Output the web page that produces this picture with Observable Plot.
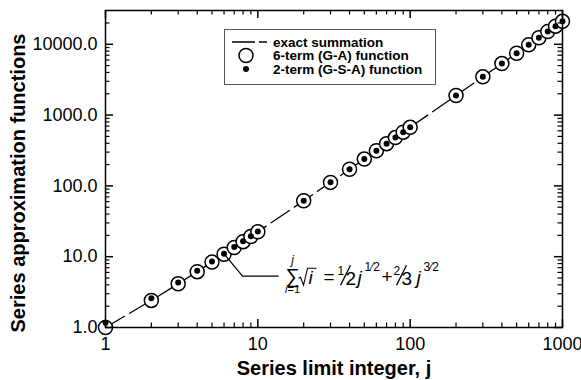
<!DOCTYPE html>
<html><head><meta charset="utf-8">
<script src="https://cdn.jsdelivr.net/npm/d3@7"></script>
<script src="https://cdn.jsdelivr.net/npm/@observablehq/plot@0.6"></script>
<style>body{margin:0;background:#fff} #chart{width:581px;height:380px}</style>
</head><body><div id="chart"></div>
<script>
// Series limit integer j
const jValues = [1,2,3,4,5,6,7,8,9,10,20,30,40,50,60,70,80,90,100,200,300,400,500,600,700,800,900,1000];
// exact summation of sqrt(i), i=1..j
const exactSum = [1, 2.414, 4.146, 6.146, 8.382, 10.832, 13.478, 16.306, 19.306, 22.468, 61.67, 112.08, 171.61, 239.04, 313.51, 394.42, 481.29, 573.74, 671.46, 1892.5, 3472.6, 5343.1, 7464.5, 9810.0, 12359.9, 15098.9, 18014.8, 21097.5];
// 6-term (G-A) function
const gaSixTerm = [1, 2.414, 4.146, 6.146, 8.382, 10.832, 13.478, 16.306, 19.306, 22.468, 61.67, 112.08, 171.61, 239.04, 313.51, 394.42, 481.29, 573.74, 671.46, 1892.5, 3472.6, 5343.1, 7464.5, 9810.0, 12359.9, 15098.9, 18014.8, 21097.5];
// 2-term (G-S-A) function
const gsaTwoTerm = [1.167, 2.593, 4.330, 6.333, 8.572, 11.02, 13.67, 16.50, 19.50, 22.66, 61.87, 112.29, 171.82, 239.24, 313.71, 394.62, 481.50, 573.95, 671.67, 1892.7, 3472.8, 5343.3, 7464.7, 9810.2, 12360.1, 15099.1, 18015.0, 21097.7];

const xTickValues = [1, 10, 100, 1000];
const xTickLabels = ["1", "10", "100", "1000"];
const xMinorTicks = [2,3,4,5,6,7,8,9,20,30,40,50,60,70,80,90,200,300,400,500,600,700,800,900];
const yTickValues = [1, 10, 100, 1000, 10000];
const yTickLabels = ["1.0", "10.0", "100.0", "1000.0", "10000.0"];
const yMinorTicks = [2,3,4,5,6,7,8,9,20,30,40,50,60,70,80,90,200,300,400,500,600,700,800,900,2000,3000,4000,5000,6000,7000,8000,9000,20000];

const legendLabels = ["exact summation", "6-term (G-A) function", "2-term (G-S-A) function"];
const xTitle = "Series limit integer, j";
const yTitle = "Series approximation functions";
const annotatedJ = 6;

const rows = jValues.map((j, k) => ({j, exact: exactSum[k], ga: gaSixTerm[k], gsa: gsaTwoTerm[k]}));

const W = 581, H = 380, mL = 105, mR = 19, mT = 10, mB = 53;
const plotW = W - mL - mR, plotH = H - mT - mB;
const majorLen = 8, minorLen = 4.5;
const FONT = "'Liberation Sans', Arial, Helvetica, sans-serif";

const fig = Plot.plot({
  width: W, height: H,
  marginLeft: mL, marginRight: mR, marginTop: mT, marginBottom: mB,
  style: {fontFamily: FONT, color: "black", background: "white", overflow: "visible"},
  x: {type: "log", domain: [1, 1000]},
  y: {type: "log", domain: [1, 30000]},
  marks: [
    Plot.line(rows, {x: "j", y: "exact", stroke: "black", strokeWidth: 1.3, strokeDasharray: "22,6"}),
    Plot.dot(rows, {x: "j", y: "ga", r: 7, fill: "white", stroke: "black", strokeWidth: 1.5}),
    Plot.dot(rows, {x: "j", y: "gsa", r: 3, fill: "black", stroke: "none"}),
    // inward ticks: bottom & top
    Plot.tickX(xTickValues, {x: d => d, insetTop: plotH - majorLen, stroke: "black", strokeWidth: 1.5}),
    Plot.tickX(xTickValues, {x: d => d, insetBottom: plotH - majorLen, stroke: "black", strokeWidth: 1.5}),
    Plot.tickX(xMinorTicks, {x: d => d, insetTop: plotH - minorLen, stroke: "black", strokeWidth: 1.2}),
    Plot.tickX(xMinorTicks, {x: d => d, insetBottom: plotH - minorLen, stroke: "black", strokeWidth: 1.2}),
    // inward ticks: left & right
    Plot.tickY(yTickValues, {y: d => d, insetRight: plotW - majorLen, stroke: "black", strokeWidth: 1.5}),
    Plot.tickY(yTickValues, {y: d => d, insetLeft: plotW - majorLen, stroke: "black", strokeWidth: 1.5}),
    Plot.tickY(yMinorTicks, {y: d => d, insetRight: plotW - minorLen, stroke: "black", strokeWidth: 1.2}),
    Plot.tickY(yMinorTicks, {y: d => d, insetLeft: plotW - minorLen, stroke: "black", strokeWidth: 1.2}),
    Plot.frame({stroke: "black", strokeWidth: 1.5}),
    Plot.axisX({ticks: xTickValues, tickSize: 0, tickPadding: 10, fontSize: 18, tickFormat: (d) => xTickLabels[xTickValues.indexOf(d)], label: null}),
    Plot.axisY({ticks: yTickValues, tickSize: 0, tickPadding: 8, fontSize: 18, tickFormat: (d) => yTickLabels[yTickValues.indexOf(d)], label: null}),
    Plot.text([xTitle], {text: d => d, frameAnchor: "bottom", dy: 41, fontSize: 20, fontWeight: "bold", lineAnchor: "middle", textAnchor: "middle"}),
    Plot.text([yTitle], {text: d => d, frameAnchor: "left", dx: -87, dy: 14, rotate: -90, fontSize: 20, fontWeight: "bold", lineAnchor: "middle", textAnchor: "middle"})
  ]
});
document.getElementById("chart").appendChild(fig);

const svg = d3.select(fig);
// Legend
const lg = svg.append("g").attr("font-family", FONT).attr("text-anchor", "start");
lg.append("rect").attr("x", 224.5).attr("y", 29.5).attr("width", 211).attr("height", 55)
  .attr("fill", "white").attr("stroke", "#555").attr("stroke-width", 1);
lg.append("line").attr("x1", 232).attr("x2", 267).attr("y1", 42).attr("y2", 42)
  .attr("stroke", "black").attr("stroke-width", 1.3).attr("stroke-dasharray", "23,4,8,100");
lg.append("circle").attr("cx", 246).attr("cy", 55.5).attr("r", 7).attr("fill", "white").attr("stroke", "black").attr("stroke-width", 1.5);
lg.append("circle").attr("cx", 246).attr("cy", 69).attr("r", 3).attr("fill", "black");
legendLabels.forEach((t, i) => {
  lg.append("text").attr("x", 273).attr("y", 46.5 + i * 13.6).attr("font-size", 13.5).attr("font-weight", "bold").text(t);
});

// Annotation leader + formula
const sx = fig.scale("x"), sy = fig.scale("y");
const k = jValues.indexOf(annotatedJ);
const px = sx.apply(annotatedJ), py = sy.apply(gsaTwoTerm[k]);
const ex = px + 19, ey = py + 23;
svg.append("path").attr("d", `M${px},${py}L${ex},${ey}L${px + 55},${ey}`)
  .attr("fill", "none").attr("stroke", "black").attr("stroke-width", 1.2);

const fx = px + 63, fb = ey + 8; // formula origin (x), main baseline
const fg = svg.append("g").attr("font-family", FONT).attr("fill", "black").attr("text-anchor", "start");
function t(x, y, s, size, italic) {
  fg.append("text").attr("x", fx + x).attr("y", fb + y).attr("font-size", size)
    .attr("font-style", italic ? "italic" : "normal").text(s);
}
function tm(x, y, s, size, italic) {
  fg.append("text").attr("x", fx + x).attr("y", fb + y).attr("font-size", size).attr("text-anchor", "middle")
    .attr("font-style", italic ? "italic" : "normal").text(s);
}
tm(6, -1, "\u2211", 20, false);
tm(6, -20, "j", 12, true);
fg.append("text").attr("x", fx + 6).attr("y", fb + 9).attr("font-size", 11).attr("text-anchor", "middle")
  .call(s => { s.append("tspan").attr("font-style", "italic").text("i"); s.append("tspan").text("=1"); });
// radical drawn as path with overline
fg.append("path").attr("d", `M${fx + 12},${fb - 6}L${fx + 14},${fb - 7}L${fx + 17},${fb + 1}L${fx + 21},${fb - 16}L${fx + 30},${fb - 16}`)
  .attr("fill", "none").attr("stroke", "black").attr("stroke-width", 1.1);
t(22, 0, "i", 19, true);
t(37, -1, "=", 19, false);
// 1/2
t(51, -9, "1", 12, false);
fg.append("line").attr("x1", fx + 64).attr("y1", fb - 19).attr("x2", fx + 54).attr("y2", fb + 1).attr("stroke", "black").attr("stroke-width", 1.3);
t(59, 1, "2", 19, false);
t(71, 0, "j", 19, true);
t(78, -13, "1\u20442", 12, false);
t(95, -1, "+", 19, false);
// 2/3
t(107, -9, "2", 12, false);
fg.append("line").attr("x1", fx + 120).attr("y1", fb - 19).attr("x2", fx + 110).attr("y2", fb + 1).attr("stroke", "black").attr("stroke-width", 1.3);
t(115, 1, "3", 19, false);
t(130, 0, "j", 19, true);
t(137, -13, "3\u20442", 12, false);
</script></body></html>
